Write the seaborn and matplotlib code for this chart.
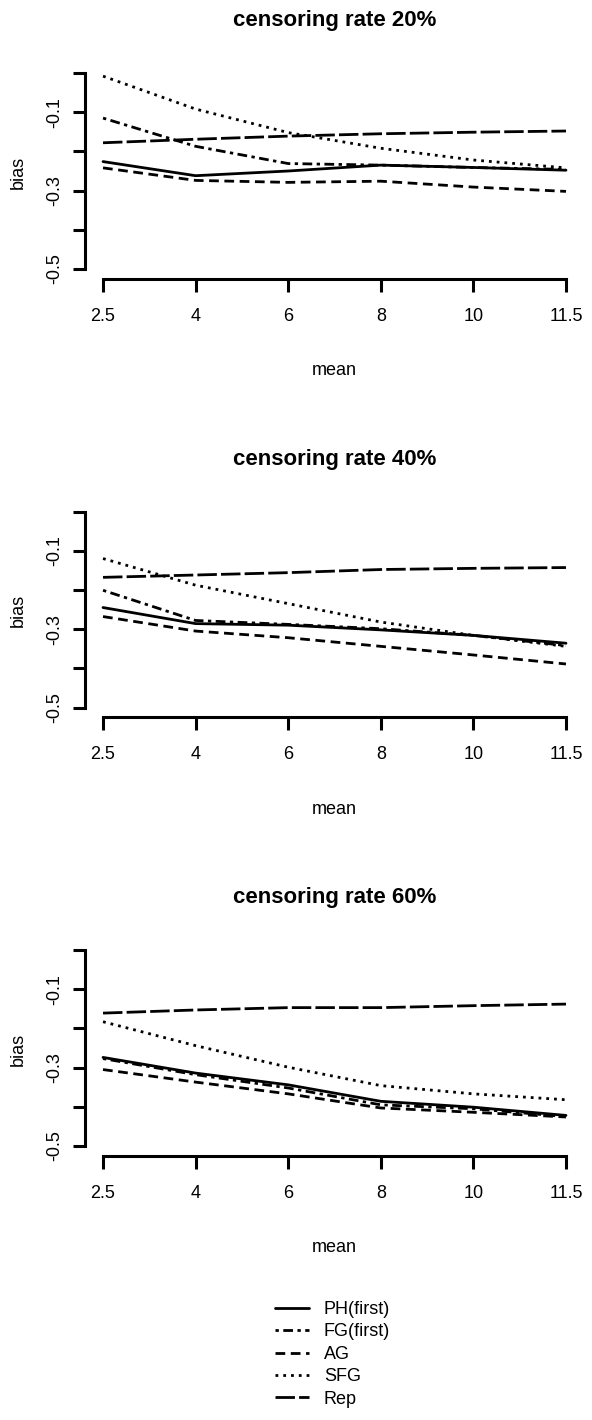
import matplotlib
matplotlib.use('Agg')
import matplotlib.pyplot as plt
import seaborn as sns
import pandas as pd

# x categories (plotted equally spaced)
means = ['2.5', '4', '6', '8', '10', '11.5']
methods = ['PH(first)', 'FG(first)', 'AG', 'SFG', 'Rep']
rates = ['20%', '40%', '60%']

# bias values, one list per method and censoring rate
ph_20 = [-0.226, -0.262, -0.250, -0.235, -0.241, -0.248]
fg_20 = [-0.115, -0.187, -0.231, -0.235, -0.241, -0.246]
ag_20 = [-0.242, -0.274, -0.279, -0.276, -0.291, -0.302]
sfg_20 = [-0.008, -0.092, -0.152, -0.192, -0.222, -0.242]
rep_20 = [-0.178, -0.169, -0.161, -0.155, -0.151, -0.148]

ph_40 = [-0.245, -0.286, -0.290, -0.302, -0.316, -0.336]
fg_40 = [-0.201, -0.278, -0.288, -0.299, -0.316, -0.342]
ag_40 = [-0.268, -0.305, -0.322, -0.344, -0.366, -0.389]
sfg_40 = [-0.120, -0.188, -0.235, -0.282, -0.316, -0.344]
rep_40 = [-0.168, -0.162, -0.156, -0.148, -0.145, -0.143]

ph_60 = [-0.274, -0.314, -0.344, -0.386, -0.401, -0.422]
fg_60 = [-0.277, -0.318, -0.352, -0.395, -0.405, -0.425]
ag_60 = [-0.305, -0.337, -0.367, -0.403, -0.414, -0.426]
sfg_60 = [-0.183, -0.244, -0.299, -0.346, -0.367, -0.382]
rep_60 = [-0.161, -0.153, -0.147, -0.147, -0.142, -0.138]

series = {
    '20%': [ph_20, fg_20, ag_20, sfg_20, rep_20],
    '40%': [ph_40, fg_40, ag_40, sfg_40, rep_40],
    '60%': [ph_60, fg_60, ag_60, sfg_60, rep_60],
}

rows = []
for rate in rates:
    for m, vals in zip(methods, series[rate]):
        for i, v in enumerate(vals):
            rows.append({'rate': rate, 'method': m, 'pos': i, 'bias': v})
df = pd.DataFrame(rows)

dashes = {
    'PH(first)': '',
    'FG(first)': (1.2, 1.6, 3.5, 1.6),
    'AG': (3.5, 2),
    'SFG': (1, 1.8),
    'Rep': (7, 1.5),
}

sns.set_style('ticks')
plt.rcParams['font.family'] = ['Liberation Sans Narrow', 'Liberation Sans', 'DejaVu Sans']
plt.rcParams.update({
    'text.color': 'black', 'axes.labelcolor': 'black', 'axes.edgecolor': 'black',
    'xtick.color': 'black', 'ytick.color': 'black',
})

W, H = 592, 1420
fig = plt.figure(figsize=(W / 100, H / 100), dpi=100)

px_per_unit = 392.0
ylo, yhi = -0.525, 0.02
ax_h = (yhi - ylo) * px_per_unit

for k, rate in enumerate(rates):
    y0 = 73 + 438.5 * k
    top = y0 - yhi * px_per_unit
    bottom = top + ax_h
    ax = fig.add_axes([84.5 / W, 1 - bottom / H, 500 / W, ax_h / H])
    sns.lineplot(data=df[df['rate'] == rate], x='pos', y='bias', style='method',
                 style_order=methods, dashes=dashes, color='black', linewidth=2.0,
                 errorbar=None, legend=(k == 2), ax=ax)
    ax.set_xlim(-0.2, 5.2)
    ax.set_ylim(ylo, yhi)
    ax.set_xticks(range(len(means)))
    ax.set_xticklabels(means)
    ax.set_yticks([0, -0.1, -0.2, -0.3, -0.4, -0.5])
    ax.set_yticklabels(['', '-0.1', '', '-0.3', '', '-0.5'], rotation=90, va='center')
    ax.tick_params(axis='both', length=9, width=2.2, labelsize=13, colors='black')
    ax.tick_params(axis='x', pad=12)
    ax.tick_params(axis='y', pad=6)
    for s in ['top', 'right']:
        ax.spines[s].set_visible(False)
    ax.spines['left'].set_bounds(-0.5, 0)
    ax.spines['bottom'].set_bounds(0, 5)
    for s in ['left', 'bottom']:
        ax.spines[s].set_linewidth(2.2)
        ax.spines[s].set_color('black')
    ax.set_xlabel('mean', fontsize=13, labelpad=27)
    ax.set_ylabel('bias', fontsize=13, labelpad=14)
    ax.set_title('censoring rate ' + rate, fontsize=16, fontweight='bold', pad=28)

    if k == 2:
        handles, labels = ax.get_legend_handles_labels()
        ax.get_legend().remove()
        fig.legend(handles, labels, loc='upper left',
                   bbox_to_anchor=(275 / W, 1 - 1301 / H), frameon=False,
                   fontsize=13, handlelength=1.9, handletextpad=0.8,
                   labelspacing=0.3, borderpad=0, borderaxespad=0)

fig.savefig('out.png', dpi=100)
